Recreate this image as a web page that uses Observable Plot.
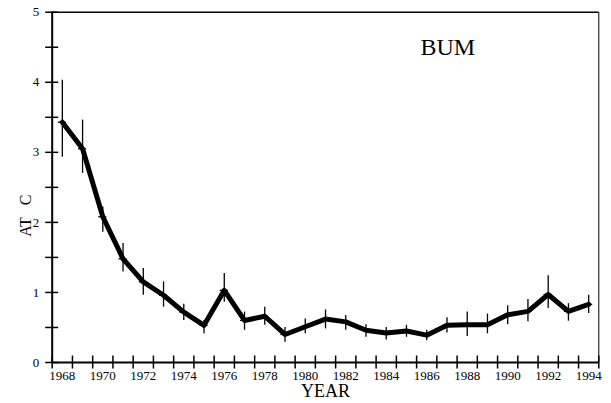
<!DOCTYPE html>
<html>
<head>
<meta charset="utf-8">
<script src="https://cdn.jsdelivr.net/npm/d3@7"></script>
<script src="https://cdn.jsdelivr.net/npm/@observablehq/plot@0.6"></script>
<style>
  html, body { margin: 0; padding: 0; background: #fff; }
  #chart svg { display: block; }
</style>
</head>
<body>
<div id="chart"></div>
<script>
// ---- data ----
const years = [1968,1969,1970,1971,1972,1973,1974,1975,1976,1977,1978,1979,1980,1981,1982,1983,1984,1985,1986,1987,1988,1989,1990,1991,1992,1993,1994];
const values = [3.43,3.05,2.08,1.48,1.15,0.96,0.72,0.53,1.03,0.60,0.66,0.40,0.51,0.62,0.58,0.46,0.42,0.45,0.39,0.53,0.54,0.54,0.68,0.73,0.97,0.73,0.83];
const upper  = [4.03,3.46,2.22,1.70,1.34,1.15,0.83,0.60,1.27,0.72,0.79,0.50,0.62,0.75,0.67,0.54,0.50,0.53,0.46,0.64,0.72,0.69,0.81,0.90,1.24,0.84,0.96];
const lower  = [2.93,2.70,1.86,1.29,0.96,0.79,0.60,0.41,0.86,0.46,0.53,0.29,0.41,0.48,0.46,0.36,0.32,0.36,0.31,0.42,0.37,0.41,0.54,0.58,0.77,0.59,0.70];

const xDomain = [1967.5, 1994.5];
const yDomain = [0, 5];
const xLabelTicks = [1968,1970,1972,1974,1976,1978,1980,1982,1984,1986,1988,1990,1992,1994];
const xMarkTicks = d3.range(1967.5, 1995, 1);
const yLabelTicks = [0,1,2,3,4,5];
const yMarkTicks = d3.range(0, 5.01, 0.5);
const seriesLabel = "BUM";
const xTitle = "YEAR";
const yTitle = "AT\u00a0\u00a0\u00a0C";

const data = years.map((year, i) => ({year, value: values[i], hi: upper[i], lo: lower[i]}));

const W = 611, H = 403, mL = 51.7, mR = 12.7, mT = 11.7, mB = 41;
const frameW = W - mL - mR, frameH = H - mT - mB;
const half = 6.5;

const chart = Plot.plot({
  width: W,
  height: H,
  marginLeft: mL,
  marginRight: mR,
  marginTop: mT,
  marginBottom: mB,
  style: {fontFamily: "'Liberation Serif', 'Times New Roman', serif", background: "#fff", color: "#000", overflow: "visible"},
  x: {domain: xDomain},
  y: {domain: yDomain},
  marks: [
    // frame
    Plot.ruleY([yDomain[1]], {stroke: "#000", strokeWidth: 1.5}),
    Plot.ruleX([xDomain[1]], {stroke: "#000", strokeWidth: 1}),
    Plot.ruleX([xDomain[0]], {stroke: "#000", strokeWidth: 2}),
    Plot.ruleY([yDomain[0]], {stroke: "#000", strokeWidth: 2}),
    // ticks crossing the axes
    Plot.tickY(yMarkTicks, {y: d => d, insetLeft: -half, insetRight: frameW - half, stroke: "#000", strokeWidth: 1.5}),
    Plot.tickX(xMarkTicks, {x: d => d, insetBottom: -half, insetTop: frameH - half, stroke: "#000", strokeWidth: 1.5}),
    Plot.axisY({anchor: "left", ticks: yLabelTicks, tickSize: 0, tickPadding: 13, fontSize: 13, fill: "#000", label: null, tickFormat: d => String(d)}),
    Plot.axisX({anchor: "bottom", ticks: xLabelTicks, tickSize: 0, tickPadding: 8, fontSize: 13, fill: "#000", label: null, tickFormat: d => String(d)}),
    // error bars
    Plot.ruleX(data, {x: "year", y1: "lo", y2: "hi", stroke: "#000", strokeWidth: 1.3}),
    Plot.ruleY(data, {y: "value", x1: d => d.year - 0.2, x2: d => d.year + 0.2, stroke: "#000", strokeWidth: 1.3}),
    // series line
    Plot.line(data, {x: "year", y: "value", stroke: "#000", strokeWidth: 5, strokeLinejoin: "round", strokeLinecap: "round"}),
    // texts
    Plot.text([seriesLabel], {frameAnchor: "top-left", dx: 368.3, dy: 35.6, textAnchor: "start", lineAnchor: "middle", fontSize: 24, fill: "#000"}),
    Plot.text([xTitle], {frameAnchor: "bottom", dy: 22, lineAnchor: "top", textAnchor: "middle", fontSize: 18, fill: "#000"}),
    Plot.text([yTitle], {frameAnchor: "left", dx: -26.8, dy: 28.3, rotate: -90, textAnchor: "middle", lineAnchor: "middle", fontSize: 16, fill: "#000"})
  ]
});
document.getElementById("chart").appendChild(chart);
</script>
</body>
</html>
